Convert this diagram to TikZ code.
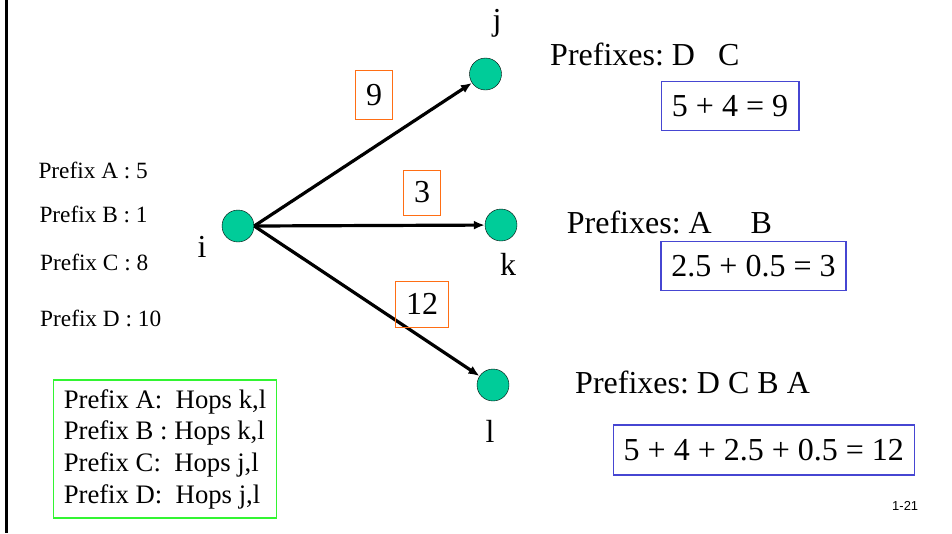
\documentclass[tikz,border=0pt]{standalone}
\usepackage{fontspec}
\setmainfont{Liberation Serif}
\newfontfamily\slidesans{Liberation Sans}
\usetikzlibrary{arrows.meta}

\definecolor{routergreen}{RGB}{0,204,153}
\definecolor{costorange}{RGB}{255,110,20}
\definecolor{sumblue}{RGB}{70,70,210}
\definecolor{listgreen}{RGB}{50,245,50}

\newcommand{\bigsize}{\fontsize{32}{38}\selectfont}
\newcommand{\prefsize}{\fontsize{23.3}{28}\selectfont}
\newcommand{\listsize}{\fontsize{26.7}{31.7}\selectfont}

\tikzset{
	router/.style={circle,draw=black,fill=routergreen,minimum size=32pt,inner sep=0pt},
	link/.style={-{Latex[length=11pt,width=9pt]},line width=3.2pt},
	costbox/.style={draw=costorange,line width=1pt,inner sep=0pt,font=\bigsize},
	sumbox/.style={draw=sumblue,line width=1.3pt,inner sep=0pt,minimum height=49pt,font=\bigsize},
	bigtext/.style={font=\bigsize,inner sep=0pt},
	preftext/.style={font=\prefsize,inner sep=0pt,anchor=base west}
}

\begin{document}
\frenchspacing
\begin{tikzpicture}[x=1pt,y=-1pt]
	\useasboundingbox (0,0) rectangle (952,533);

	\draw[line width=3pt] (6.5,0) -- (6.5,533) ;

	% routers
	\node[router] (i) at (238,226) {};
	\node[router] (j) at (485.5,74) {};
	\node[router] (k) at (501,225) {};
	\node[router] (l) at (493,385) {};

	\node[bigtext,anchor=base] (name-i) at (202,257) {i};
	\node[bigtext,anchor=base] (name-j) at (497,30) {j};
	\node[bigtext,anchor=base] (name-k) at (508,275) {k};
	\node[bigtext,anchor=base] (name-l) at (490,442) {l};

	\draw[link] (i.east) -- (j) ;
	\draw[link] (i.east) -- (k) ;
	\draw[link] (i.east) -- (l) ;

	% link costs
	\node[costbox,minimum width=36.7pt,minimum height=49pt] (cost-j) at (374,94.7) {9};
	\node[costbox,minimum width=36.7pt,minimum height=45pt] (cost-k) at (422,192.5) {3};
	\node[costbox,minimum width=52.6pt,minimum height=46pt] (cost-l) at (422,304) {12};

	% prefix weights at i
	\node[preftext] (pref-a) at (38.3,178.3) {Prefix A : 5};
	\node[preftext] (pref-b) at (39.3,222.7) {Prefix B : 1};
	\node[preftext] (pref-c) at (40,270) {Prefix C : 8};
	\node[preftext] (pref-d) at (40,326) {Prefix D : 10};

	% prefixes per next hop
	\node[bigtext,anchor=base west] (via-j) at (550,65.7) {Prefixes: D\hspace{15pt} C};
	\node[bigtext,anchor=base west] (via-k) at (566.7,233.3) {Prefixes: A\hspace{31pt} B};
	\node[bigtext,anchor=base west] (via-l) at (575,393.3) {Prefixes: D C B A};

	\node[sumbox,minimum width=137.7pt] (sum-j) at (730,106) {5 + 4 = 9};
	\node[sumbox,minimum width=185pt] (sum-k) at (753.5,266.2) {2.5 + 0.5 = 3};
	\node[sumbox,minimum width=301pt,minimum height=50pt] (sum-l) at (763.8,450) {5 + 4 + 2.5 + 0.5 = 12};

	% hops per prefix
	\node[draw=listgreen,line width=1.3pt,font=\listsize,align=left,
		inner xsep=10pt,inner ysep=0pt,minimum width=223.4pt,minimum height=138pt] (hops) at (165,449)
		{Prefix A:\ \ Hops k,l\\Prefix B : Hops k,l\\Prefix C:\ \ Hops j,l\\Prefix D:\ \ Hops j,l};

	\node[font=\slidesans\fontsize{13}{15}\selectfont,inner sep=0pt,anchor=base west] (page) at (892,510) {1-21};

\end{tikzpicture}
\end{document}
